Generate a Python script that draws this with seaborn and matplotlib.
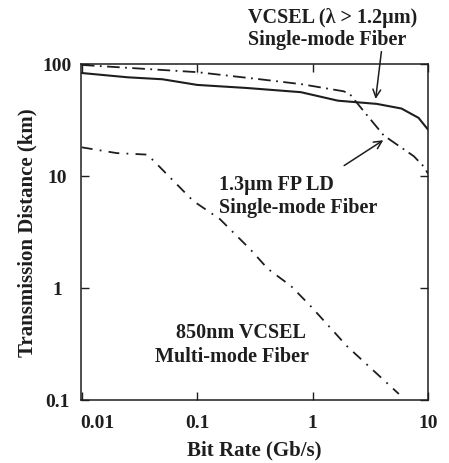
import matplotlib
matplotlib.use("Agg")
import matplotlib.pyplot as plt
import matplotlib.transforms as mtrans
import seaborn as sns
import numpy as np
import pandas as pd

# VCSEL (lambda > 1.2um), single-mode fiber
vcsel_sm_rate = [0.01, 0.025, 0.05, 0.1, 0.27, 0.79, 1.66, 3.6, 5.9, 8.3, 10]
vcsel_sm_dist = [83, 76, 73, 65, 61, 56, 47, 44, 40, 33, 26]

# 1.3um FP LD, single-mode fiber
fpld_rate = [0.01, 0.1, 0.1, 0.35, 0.8, 1.86, 2.1, 2.77, 4.14, 7.55, 9.3, 10]
fpld_dist = [98, 88, 81, 73, 66, 57, 54, 38, 23, 15, 12, 10.5]

# 850nm VCSEL, multi-mode fiber
mm_rate = [0.01, 0.02, 0.037, 0.043, 0.092, 0.158, 0.29, 0.41, 0.65, 0.96, 2.0, 5.6]
mm_dist = [18, 16, 15.5, 13.3, 6.0, 4.1, 2.2, 1.48, 1.04, 0.69, 0.30, 0.113]

xticks = [0.01, 0.1, 1, 10]
xticklabels = ["0.01", "0.1", "1", "10"]
yticks = [0.1, 1, 10, 100]
yticklabels = ["0.1", "1", "10", "100"]

sns.set_style("ticks")
plt.rcParams['font.family'] = ['Liberation Serif', 'DejaVu Serif']
plt.rcParams['font.weight'] = 'bold'

fig = plt.figure(figsize=(4.49, 4.64), dpi=100)
ax = fig.add_axes([0.180, 0.136, 0.773, 0.724])

ink = "#1e1e1e"
df1 = pd.DataFrame({"rate": vcsel_sm_rate, "dist": vcsel_sm_dist})
df2 = pd.DataFrame({"rate": fpld_rate, "dist": fpld_dist})
df3 = pd.DataFrame({"rate": mm_rate, "dist": mm_dist})

sns.lineplot(data=df1, x="rate", y="dist", ax=ax, color=ink, lw=1.5, sort=False)
l2 = sns.lineplot(data=df2, x="rate", y="dist", ax=ax, color=ink, lw=1.3, sort=False).lines[-1]
l2.set_dashes((7, 3, 1, 3))
l3 = sns.lineplot(data=df3, x="rate", y="dist", ax=ax, color=ink, lw=1.3, sort=False).lines[-1]
l3.set_dashes((6, 4, 1, 4))

ax.set_xscale("log")
ax.set_yscale("log")
ax.set_xlim(0.0098, 10)
ax.set_ylim(0.1, 100)
ax.set_xticks(xticks)
ax.set_xticklabels(xticklabels)
ax.set_yticks(yticks)
ax.set_yticklabels(yticklabels)
ax.minorticks_off()
ax.tick_params(direction="in", length=6, width=1, top=True, right=True,
               labelsize=14, colors=ink)
ax.tick_params(axis="x", pad=10)
ax.tick_params(axis="y", pad=17)
for lab in ax.get_yticklabels():
    lab.set_horizontalalignment("center")
# the 0.01 label sits a bit right of its tick in the original
first = ax.get_xticklabels()[0]
first.set_transform(first.get_transform() + mtrans.ScaledTranslation(0.15, 0, fig.dpi_scale_trans))
for s in ax.spines.values():
    s.set_linewidth(1.1)
    s.set_color(ink)

ax.set_xlabel("Bit Rate (Gb/s)", fontsize=15, fontweight="bold", labelpad=6, color=ink)
ax.set_ylabel("Transmission Distance (km)", fontsize=15, fontweight="bold", labelpad=4, color=ink)

txt = dict(fontsize=14.5, fontweight="bold", color=ink, va="center")
ax.text(0.481, 1.140, "VCSEL (\u03bb > 1.2\u00b5m)", transform=ax.transAxes, ha="left", **txt)
ax.text(0.481, 1.074, "Single-mode Fiber", transform=ax.transAxes, ha="left", **txt)
ax.text(0.398, 0.643, "1.3\u00b5m FP LD", transform=ax.transAxes, ha="left", **txt)
ax.text(0.398, 0.574, "Single-mode Fiber", transform=ax.transAxes, ha="left", **txt)
ax.text(0.461, 0.202, "850nm VCSEL", transform=ax.transAxes, ha="center", **txt)
ax.text(0.435, 0.131, "Multi-mode Fiber", transform=ax.transAxes, ha="center", **txt)

arrow = dict(arrowstyle="->", color=ink, lw=1.1, mutation_scale=14)
ax.annotate("", xy=(3.5, 46), xytext=(0.867, 1.045), textcoords="axes fraction",
            arrowprops=arrow, annotation_clip=False)
ax.annotate("", xy=(4.3, 21.5), xytext=(0.752, 0.693), textcoords="axes fraction",
            arrowprops=arrow)

fig.savefig("out.png", dpi=100)
